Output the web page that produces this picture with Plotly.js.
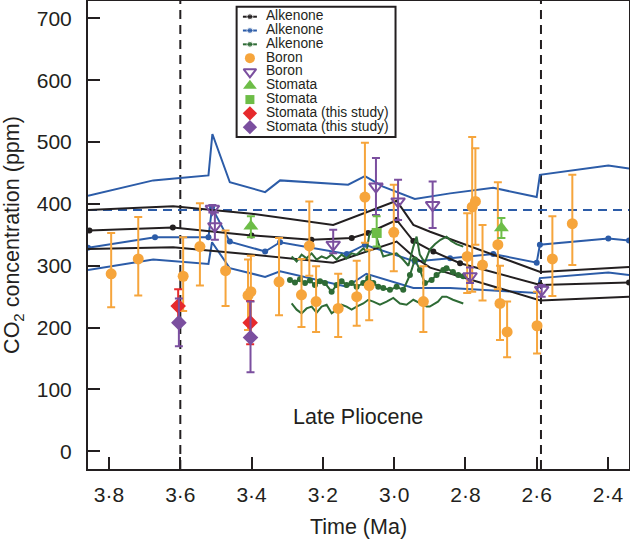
<!DOCTYPE html>
<html><head><meta charset="utf-8">
<script src="https://cdn.plot.ly/plotly-3.0.1.min.js"></script>
<style>html,body{margin:0;padding:0;background:#fff}#chart{width:630px;height:541px}</style>
</head><body><div id="chart"></div>
<script>
// ---------- DATA ----------
// Alkenone, black (upper / mean / lower)
const alkBlackUpperX = [3.859, 3.62, 3.40, 3.171, 2.993, 2.946, 2.899, 2.59, 2.341];
const alkBlackUpperY = [390, 396, 384, 366, 405, 366, 355, 290, 298];
const alkBlackMeanX  = [3.855, 3.621, 3.40, 3.232, 3.119, 3.073, 2.993, 2.946, 2.890, 2.815, 2.59, 2.341];
const alkBlackMeanY  = [357, 362, 349, 342, 345, 353, 374, 340, 323, 304, 269, 273];
const alkBlackLowerX = [3.859, 3.62, 3.40, 3.171, 2.993, 2.946, 2.899, 2.59, 2.341];
const alkBlackLowerY = [327, 330, 318, 305, 339, 315, 297, 244, 250];

// Alkenone, blue (upper / mean / lower)
const alkBlueUpperX = [3.859, 3.676, 3.601, 3.521, 3.510, 3.461, 3.362, 3.320, 3.129, 3.082, 3.031, 2.942, 2.843, 2.722, 2.600, 2.591, 2.399, 2.341];
const alkBlueUpperY = [413, 438, 442, 446, 513, 435, 419, 438, 431, 445, 428, 408, 417, 426, 411, 447, 462, 457];
const alkBlueMeanX  = [3.859, 3.671, 3.521, 3.511, 3.461, 3.362, 3.320, 3.133, 3.082, 2.942, 2.843, 2.722, 2.600, 2.591, 2.399, 2.341];
const alkBlueMeanY  = [329, 346, 346, 394, 339, 323, 338, 319, 334, 307, 312, 319, 305, 334, 344, 341];
const alkBlueLowerX = [3.859, 3.676, 3.521, 3.511, 3.461, 3.362, 3.320, 3.133, 3.078, 2.946, 2.843, 2.600, 2.591, 2.399, 2.341];
const alkBlueLowerY = [293, 310, 303, 338, 296, 282, 291, 266, 287, 264, 264, 256, 280, 289, 285];

// Alkenone, green (upper / mean / lower)
const alkGreenUpperX = [3.2876,3.2736,3.2596,3.2456,3.2315,3.2175,3.2035,3.1894,3.1754,3.1614,3.1474,3.1333,3.1193,3.1053,3.0866,3.0772,3.0698,3.0567,3.0445,3.0305,3.0118,2.9931,2.975,2.96,2.946,2.937,2.928,2.914,2.90,2.885,2.87,2.853,2.84,2.825,2.806];
const alkGreenUpperY = [315,307,318,312,320,310,315,312,318,310,318,312,320,318,328,323,350,360,337,315,318,320,310,300,331,347,318,305,326,335,342,347,340,335,331];
const alkGreenMeanX  = [3.2923,3.2783,3.2642,3.2502,3.2362,3.2222,3.2081,3.1941,3.1754,3.1614,3.1474,3.1333,3.1193,3.1053,3.0866,3.0726,3.0585,3.0445,3.0305,3.0118,2.9931,2.9744,2.9557,2.9417,2.9276,2.9136,2.8949,2.8809,2.8622,2.853,2.835,2.82,2.806];
const alkGreenMeanY  = [277,273,278,272,276,269,275,272,258,269,275,269,272,266,272,280,272,266,264,261,266,261,285,310,293,272,277,285,293,296,290,285,283];
const alkGreenLowerX = [3.2876,3.2736,3.2596,3.2456,3.2315,3.2175,3.2035,3.1894,3.1754,3.1614,3.1474,3.1333,3.1193,3.1053,3.0866,3.0726,3.0585,3.0398,3.0211,3.0024,2.9837,2.965,2.9463,2.9276,2.9089,2.90,2.877,2.865,2.853,2.835,2.806];
const alkGreenLowerY = [239,229,223,231,234,224,234,237,223,229,237,234,229,234,239,245,242,237,242,248,239,237,245,239,234,234,242,250,250,245,239];

// Boron, orange circles (value, upper and lower error limits)
const boronX  = [3.794, 3.718, 3.592, 3.545, 3.473, 3.410, 3.402, 3.323, 3.260, 3.238, 3.219, 3.157, 3.105, 3.082, 3.070, 3.001, 2.918, 2.795, 2.781, 2.772, 2.752, 2.709, 2.703, 2.683, 2.599, 2.556, 2.500];
const boronY  = [287, 311, 283, 331, 292, 252, 258, 274, 253, 332, 242, 231, 250, 411, 268, 354, 242, 315, 395, 404, 301, 334, 239, 193, 203, 311, 368];
const boronHi = [353, 379, 346, 401, 357, 310, 316, 345, 311, 404, 299, 287, 308, 499, 326, 431, 299, 385, 508, 490, 366, 435, 300, 242, 258, 380, 447];
const boronLo = [233, 252, 227, 268, 235, 196, 205, 220, 201, 284, 193, 185, 203, 337, 212, 291, 193, 256, 258, 334, 244, 262, 180, 152, 158, 251, 301];

// Boron, purple open triangles
const boron2X  = [3.510, 3.503, 3.171, 3.051, 2.989, 2.892, 2.787, 2.586];
const boron2Y  = [392, 364, 334, 428, 404, 398, 283, 261];
const boron2Hi = [398, 386, 358, 474, 439, 436, 297, 269];
const boron2Lo = [386, 342, 320, 382, 374, 361, 272, 250];

// Stomata, green triangles
const stomTriX  = [3.402, 2.699];
const stomTriY  = [364, 361];
const stomTriHi = [380, 377];
const stomTriLo = [346, 345];

// Stomata, green square
const stomSqX  = [3.049];
const stomSqY  = [353];
const stomSqHi = [380];
const stomSqLo = [331];

// Stomata (this study), red diamonds
const thisRedX  = [3.606, 3.404];
const thisRedY  = [235, 208];
const thisRedHi = [262, 243];
const thisRedLo = [208, 173];

// Stomata (this study), purple diamonds
const thisPurX  = [3.604, 3.403];
const thisPurY  = [208, 184];
const thisPurHi = [247, 242];
const thisPurLo = [170, 128];

// reference lines
const modernCO2 = 390;
const pliocenePeriod = [3.6, 2.588];
const periodLabel = 'Late Pliocene';
const periodLabelPos = [3.101, 55];

// axes
const xTickVals = [3.8, 3.6, 3.4, 3.2, 3.0, 2.8, 2.6, 2.4];
const xTickText = ['3·8', '3·6', '3·4', '3·2', '3·0', '2·8', '2·6', '2·4'];
const yTickVals = [0, 100, 200, 300, 400, 500, 600, 700];
const xRange = [3.859, 2.341];
const yRange = [-28.6, 728];

const legendLabels = ['Alkenone', 'Alkenone', 'Alkenone', 'Boron', 'Boron', 'Stomata', 'Stomata', 'Stomata (this study)', 'Stomata (this study)'];

// ---------- STYLE ----------
const FONT = 'Liberation Sans, Arial, Helvetica, sans-serif';
const C = {black:'#231f20', blue:'#2c5ca8', green:'#2e6b35', orange:'#f6a53c', purple:'#7b4f9f', lgreen:'#6dbd47', red:'#e62a2c'};

function lineTrace(x, y, color, markers) {
  return {type:'scatter', mode: markers ? 'lines+markers' : 'lines', x, y,
    line:{color, width:2}, marker:{color, size:6}, showlegend:false, hoverinfo:'skip'};
}
function errTrace(x, y, hi, lo, symbol, color, size) {
  return {type:'scatter', mode:'markers', x, y,
    error_y:{type:'data', symmetric:false,
      array: hi.map((h, i) => h - y[i]), arrayminus: lo.map((l, i) => y[i] - l),
      color, thickness:2, width:4},
    marker:{symbol, color, size, line:{color, width: symbol.indexOf('open') >= 0 ? 2 : 0}},
    showlegend:false, hoverinfo:'skip'};
}

const traces = [
  lineTrace(alkBlueUpperX, alkBlueUpperY, C.blue, false),
  lineTrace(alkBlueMeanX, alkBlueMeanY, C.blue, true),
  lineTrace(alkBlueLowerX, alkBlueLowerY, C.blue, false),
  lineTrace(alkBlackUpperX, alkBlackUpperY, C.black, false),
  lineTrace(alkBlackMeanX, alkBlackMeanY, C.black, true),
  lineTrace(alkBlackLowerX, alkBlackLowerY, C.black, false),
  lineTrace(alkGreenUpperX, alkGreenUpperY, C.green, false),
  lineTrace(alkGreenMeanX, alkGreenMeanY, C.green, true),
  lineTrace(alkGreenLowerX, alkGreenLowerY, C.green, false),
  errTrace(boronX, boronY, boronHi, boronLo, 'circle', C.orange, 11),
  errTrace(boron2X, boron2Y, boron2Hi, boron2Lo, 'triangle-down-open', C.purple, 12),
  errTrace(stomTriX, stomTriY, stomTriHi, stomTriLo, 'triangle-up', C.lgreen, 13),
  errTrace(stomSqX, stomSqY, stomSqHi, stomSqLo, 'square', C.lgreen, 10),
  errTrace(thisRedX, thisRedY, thisRedHi, thisRedLo, 'diamond', C.red, 12),
  errTrace(thisPurX, thisPurY, thisPurHi, thisPurLo, 'diamond', C.purple, 12)
];

// ---------- custom legend (drawn in plot-pixel units on overlay axes) ----------
const legStyles = [
  {kind:'line', color:C.black}, {kind:'line', color:C.blue}, {kind:'line', color:C.green},
  {kind:'mark', symbol:'circle', color:C.orange, size:11},
  {kind:'mark', symbol:'triangle-down-open', color:C.purple, size:12},
  {kind:'mark', symbol:'triangle-up', color:C.lgreen, size:13},
  {kind:'mark', symbol:'square', color:C.lgreen, size:10},
  {kind:'mark', symbol:'diamond', color:C.red, size:12},
  {kind:'mark', symbol:'diamond', color:C.purple, size:12}
];
const LEG = {x0:148.7, x1:307.7, y0:5.7, y1:136, row0:15.7, dy:13.8, sym:162, half:7, text:178};
const legRowY = legendLabels.map((_, i) => LEG.row0 + i * LEG.dy);
const annotations = [{
  x: periodLabelPos[0], y: periodLabelPos[1], xref:'x', yref:'y', text: periodLabel,
  showarrow:false, font:{family:FONT, size:21.5, color:C.black}
}];
legStyles.forEach((st, i) => {
  const yy = legRowY[i];
  if (st.kind === 'line') {
    traces.push({type:'scatter', mode:'lines+markers', xaxis:'x2', yaxis:'y2',
      x:[LEG.sym - LEG.half, LEG.sym, LEG.sym + LEG.half], y:[yy, yy, yy],
      line:{color:st.color, width:2}, marker:{color:st.color, size:[0, 6, 0]},
      showlegend:false, hoverinfo:'skip'});
  } else {
    traces.push({type:'scatter', mode:'markers', xaxis:'x2', yaxis:'y2',
      x:[LEG.sym], y:[yy],
      marker:{symbol:st.symbol, color:st.color, size:st.size - 1,
        line:{color:st.color, width: st.symbol.indexOf('open') >= 0 ? 2 : 0}},
      showlegend:false, hoverinfo:'skip'});
  }
});
traces.push({type:'scatter', mode:'text', xaxis:'x2', yaxis:'y2',
  x: legendLabels.map(() => LEG.text), y: legRowY, text: legendLabels,
  textposition:'middle right', marker:{size:1},
  textfont:{family:FONT, size:13.8, color:C.black}, showlegend:false, hoverinfo:'skip'});

const shapes = [
  {type:'line', xref:'x', yref:'paper', x0:pliocenePeriod[0], x1:pliocenePeriod[0], y0:0, y1:1,
    line:{color:C.black, width:2, dash:'9px,6px'}, layer:'below'},
  {type:'line', xref:'x', yref:'paper', x0:pliocenePeriod[1], x1:pliocenePeriod[1], y0:0, y1:1,
    line:{color:C.black, width:2, dash:'9px,6px'}, layer:'below'},
  {type:'line', xref:'paper', yref:'y', x0:0, x1:1, y0:modernCO2, y1:modernCO2,
    line:{color:C.blue, width:2, dash:'9px,6px'}, layer:'below'},
  {type:'rect', xref:'x2', yref:'y2', x0:LEG.x0, x1:LEG.x1, y0:LEG.y0, y1:LEG.y1,
    line:{color:C.black, width:2}, fillcolor:'#ffffff', layer:'below'}
];

const axisCommon = {ticks:'inside', ticklen:12, tickwidth:2, tickcolor:C.black,
  showline:true, mirror:true, linewidth:2, linecolor:C.black, showgrid:false, zeroline:false,
  tickfont:{family:FONT, size:21, color:C.black}};

const layout = {
  width:630, height:541, margin:{l:88, r:0.7, t:1, b:72.3, pad:0},
  paper_bgcolor:'#ffffff', plot_bgcolor:'#ffffff', showlegend:false,
  font:{family:FONT, size:21, color:C.black},
  xaxis:Object.assign({}, axisCommon, {range:xRange, tickmode:'array', tickvals:xTickVals, ticktext:xTickText,
    ticklabelstandoff:6,
    title:{text:'Time (Ma)', font:{family:FONT, size:21.5, color:C.black}, standoff:14}, automargin:false}),
  yaxis:Object.assign({}, axisCommon, {range:yRange, tickmode:'array', tickvals:yTickVals,
    ticklabelstandoff:10,
    title:{text:'CO<sub>2</sub> concentration (ppm)', font:{family:FONT, size:21.5, color:C.black}, standoff:11}, automargin:false}),
  xaxis2:{overlaying:'x', range:[0, 541.3], visible:false, fixedrange:true},
  yaxis2:{overlaying:'y', range:[467.7, 0], visible:false, fixedrange:true},
  shapes, annotations
};

Plotly.newPlot('chart', traces, layout, {staticPlot:true, displayModeBar:false});
</script>
</body></html>
